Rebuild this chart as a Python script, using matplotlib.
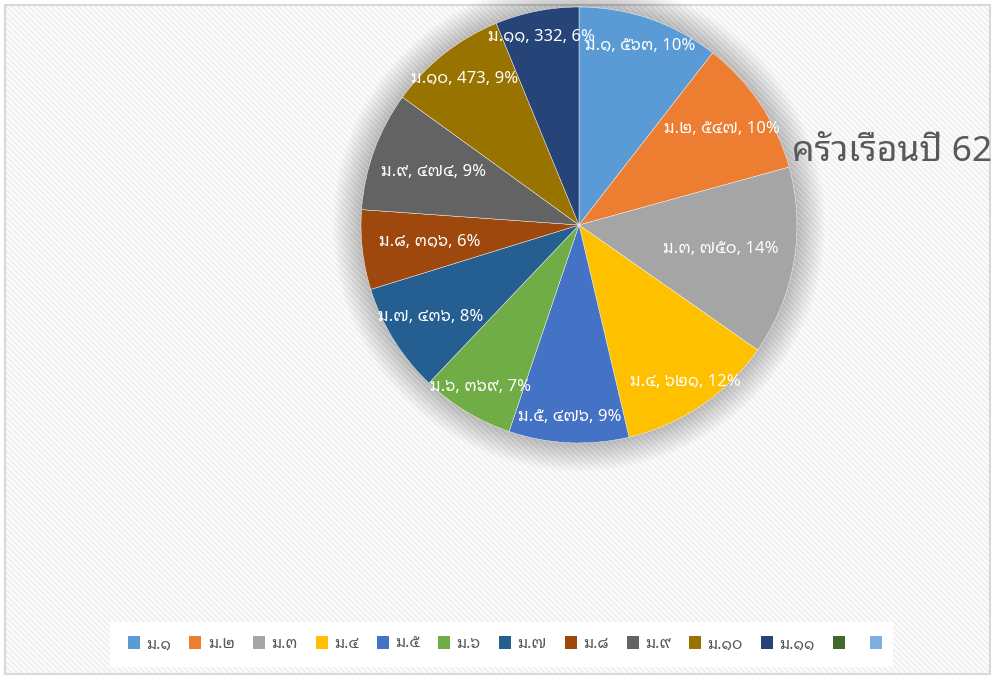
import matplotlib
matplotlib.use("Agg")
import matplotlib.pyplot as plt
from matplotlib.patches import Rectangle, Circle, Patch
import numpy as np

# ---- data ----
categories = ["ม.๑", "ม.๒", "ม.๓", "ม.๔", "ม.๕", "ม.๖", "ม.๗", "ม.๘", "ม.๙", "ม.๑๐", "ม.๑๑"]
values = [563, 547, 750, 621, 476, 369, 436, 316, 474, 473, 332]
value_text = ["๕๖๓", "๕๔๗", "๗๕๐", "๖๒๑", "๔๗๖", "๓๖๙", "๔๓๖", "๓๑๖", "๔๗๔", "473", "332"]
pct_text = ["10%", "10%", "14%", "12%", "9%", "7%", "8%", "6%", "9%", "9%", "6%"]
extra_legend = ["", ""]
title = "ครัวเรือนปี 62"

colors = ["#5B9BD5", "#ED7D31", "#A5A5A5", "#FFC000", "#4472C4", "#70AD47",
          "#255E91", "#9E480E", "#636363", "#997300", "#264478"]
extra_colors = ["#43682B", "#7CAFDD"]
label_r = [0.87, 0.79, 0.66, 0.87, 0.88, 0.87, 0.80, 0.69, 0.71, 0.85, 0.88]

thai = ["Noto Sans Thai Looped", "Noto Sans Thai", "Sarabun", "DejaVu Sans"]
plt.rcParams["font.family"] = thai
plt.rcParams["hatch.color"] = "#f0f0f0"
plt.rcParams["hatch.linewidth"] = 1.6

W, H = 995, 679
fig = plt.figure(figsize=(W / 100, H / 100), dpi=100)
fig.patch.set_facecolor("white")

# background with diagonal stripes and border
bg = fig.add_axes([0, 0, 1, 1], zorder=-10)
bg.set_xlim(0, W); bg.set_ylim(H, 0); bg.axis("off")
bg.add_patch(Rectangle((5, 5), W - 10, H - 10, facecolor="white",
                       edgecolor="#f0f0f0", hatch="\\" * 6, lw=0))
bg.add_patch(Rectangle((5, 5), W - 10, H - 10, facecolor="none",
                       edgecolor="#d9d9d9", lw=1.5))
# legend box
bg.add_patch(Rectangle((110, 622), 783, 45, facecolor="white", edgecolor="none"))

# pie axes
cx, cy, r = 579, 225, 218
ax = fig.add_axes([(cx - r) / W, (H - cy - r) / H, 2 * r / W, 2 * r / H])
# soft shadow
n = 20
for k in range(n):
    ax.add_patch(Circle((0, 0.0), 1.0 + 0.0065 * (n - k), facecolor="#000000",
                        alpha=0.01, lw=0, zorder=0, clip_on=False))
wedges, _ = ax.pie(values, colors=colors, startangle=90, counterclock=False,
                   radius=1.0, wedgeprops=dict(edgecolor="white", linewidth=0.3))
for w in wedges:
    w.set_zorder(2)
for w, cat, vt, pt, lr in zip(wedges, categories, value_text, pct_text, label_r):
    ang = np.deg2rad((w.theta1 + w.theta2) / 2)
    ax.text(lr * np.cos(ang), lr * np.sin(ang), f"{cat}, {vt}, {pt}",
            ha="center", va="center", color="white", fontsize=12, zorder=5)
ax.set_xlim(-1, 1); ax.set_ylim(-1, 1)
ax.axis("off")

fig.text(792 / W, 1 - 152 / H, title, ha="left", va="center", fontsize=25.5, color="#595959")

labels = categories + extra_legend
handles = [Patch(facecolor=c) for c in colors + extra_colors]
leg = fig.legend(handles, labels, loc="center", bbox_to_anchor=(508 / W, 1 - 644 / H),
                 ncol=13, frameon=False, fontsize=11.5, handlelength=0.75, handleheight=0.9,
                 columnspacing=1.14, handletextpad=0.4, labelcolor="#595959")
fig.savefig("out.png", dpi=100)
